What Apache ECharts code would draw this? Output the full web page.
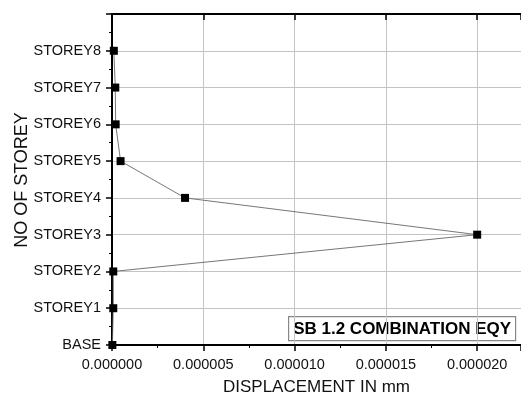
<!DOCTYPE html>
<html><head><meta charset="utf-8">
<script src="https://cdn.jsdelivr.net/npm/echarts@6/dist/echarts.min.js"></script>
<style>html,body{margin:0;padding:0;background:#fff}#c{width:521px;height:396px}</style>
</head><body><div id="c"></div>
<script>
const storeys = ['BASE','STOREY1','STOREY2','STOREY3','STOREY4','STOREY5','STOREY6','STOREY7','STOREY8'];
const displacement = [0.00000002, 0.00000007, 0.00000007, 0.00002, 0.000004, 0.00000047, 0.0000002, 0.00000018, 0.0000001];
const xTicks = [0, 0.000005, 0.00001, 0.000015, 0.00002];
const titleText = 'SB 1.2 COMBINATION EQY';
const yName = 'NO OF STOREY';
const xName = 'DISPLACEMENT IN mm';

const chart = echarts.init(document.getElementById('c'));
const font = 'Liberation Sans, Arial, sans-serif';
const data = displacement.map((v, i) => [v, i]);
chart.setOption({
  animation: false,
  backgroundColor: '#fff',
  grid: {left: 112, top: 14, right: 0, bottom: 51, containLabel: false, outerBoundsMode: 'none'},
  xAxis: [{
    type: 'value', min: 0, max: 0.0000224, interval: 0.000005,
    name: xName, nameLocation: 'middle', nameGap: 34,
    nameTextStyle: {fontFamily: font, fontSize: 17, color: '#111'},
    axisLine: {show: true, lineStyle: {color: '#000', width: 2}},
    axisTick: {show: true, inside: false, length: 6, lineStyle: {color: '#000', width: 1.5}},
    minorTick: {show: true, splitNumber: 2, length: 3, lineStyle: {color: '#000'}},
    axisLabel: {fontFamily: font, fontSize: 14.5, color: '#111', margin: 12, showMaxLabel: false,
      formatter: v => xTicks.some(t => Math.abs(t - v) < 1e-12) ? v.toFixed(6) : ''},
    splitLine: {show: true, lineStyle: {color: '#c4c4c4', width: 1}}
  }, {
    type: 'value', position: 'top', min: 0, max: 0.0000224, interval: 0.000005,
    axisLine: {show: true, lineStyle: {color: '#000', width: 2}},
    axisTick: {show: true, inside: true, length: 6, lineStyle: {color: '#000', width: 1.5}},
    axisLabel: {show: false}, splitLine: {show: false}
  }],
  yAxis: {
    type: 'value', min: 0, max: 9, interval: 1,
    axisLine: {show: true, lineStyle: {color: '#000', width: 2}},
    axisTick: {show: true, inside: false, length: 6, lineStyle: {color: '#000', width: 1.5}},
    minorTick: {show: true, splitNumber: 2, length: 3, lineStyle: {color: '#000'}},
    axisLabel: {fontFamily: font, fontSize: 14.5, color: '#111', margin: 11,
      formatter: v => storeys[v] !== undefined ? storeys[v] : ''},
    splitLine: {show: true, lineStyle: {color: '#c4c4c4', width: 1}}
  },
  series: [{
    type: 'line', data: data, xAxisIndex: 0,
    symbol: 'rect', symbolSize: 8,
    itemStyle: {color: '#000'},
    lineStyle: {color: '#666', width: 0.9},
    clip: false
  }],
  graphic: [{
    type: 'text', x: 22, y: 180, rotation: Math.PI / 2,
    style: {text: yName, font: '18px ' + font, fill: '#111', textAlign: 'center', textVerticalAlign: 'middle'}
  }, {
    type: 'group', left: 288, top: 316,
    children: [{
      type: 'rect', shape: {x: 0, y: 0, width: 227, height: 24},
      style: {fill: '#fff', stroke: '#888', lineWidth: 1.2}
    }, {
      type: 'text', x: 113.5, y: 12.5,
      style: {text: titleText, font: 'bold 17px ' + font, fill: '#000', textAlign: 'center', textVerticalAlign: 'middle'}
    }]
  }]
});
</script></body></html>
